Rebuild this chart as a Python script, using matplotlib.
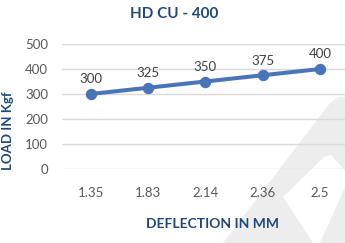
import matplotlib
matplotlib.use("Agg")
import matplotlib.pyplot as plt
from matplotlib.patches import Polygon

plt.rcParams['font.family'] = ['Lato', 'DejaVu Sans']

# chart data
deflection = ["1.35", "1.83", "2.14", "2.36", "2.5"]
load = [300, 325, 350, 375, 400]
y_ticks = [0, 100, 200, 300, 400, 500]

W, H = 345, 243
fig = plt.figure(figsize=(W / 100, H / 100), dpi=100)

def px(pts):
    return [(x / W, 1 - y / H) for x, y in pts]

# faint watermark in the lower right corner (behind everything)
fig.patches.append(Polygon(px([(223, 243), (330, 103), (338, 97), (345, 97), (345, 243)]),
                           closed=True, transform=fig.transFigure, facecolor="#EDEDED",
                           edgecolor="none", zorder=-2))
fig.patches.append(Polygon(px([(283, 197), (324, 157), (331, 155), (350, 176), (320, 243), (313, 243)]),
                           closed=True, transform=fig.transFigure, facecolor="white",
                           edgecolor="none", zorder=-1))

ax = fig.add_axes([62 / W, 1 - 169 / H, (348.7 - 62) / W, (169 - 44) / H])
ax.patch.set_alpha(0)

xs = list(range(len(deflection)))
ax.plot(xs, load, color="#4A74B8", linewidth=2.9, marker="o", markersize=7.2,
        solid_capstyle="round", zorder=3)
for x, v in zip(xs, load):
    ax.annotate(str(v), (x, v), xytext=(0, 10.5), textcoords="offset points",
                ha="center", va="center", fontsize=9.5, color="#404040")

ax.set_xlim(-0.5, len(deflection) - 0.5)
ax.set_ylim(0, 500)
ax.set_yticks(y_ticks)
ax.set_xticks(xs)
ax.set_xticklabels(deflection)
ax.grid(axis="y", color="#D9D9D9", linewidth=1)
ax.set_axisbelow(True)
for s in ax.spines.values():
    s.set_visible(False)
ax.tick_params(length=0, labelsize=9.5, labelcolor="#595959")
ax.tick_params(axis="x", pad=13)
ax.tick_params(axis="y", pad=10)

fig.text(174 / W, 1 - 14 / H, "HD CU - 400", ha="center", va="center",
         fontsize=11, fontweight="bold", color="#1F497D")
fig.text(212 / W, 1 - 224 / H, "DEFLECTION IN MM", ha="center", va="center",
         fontsize=10, fontweight="bold", color="#1F497D")
fig.text(8 / W, 1 - 131 / H, "LOAD IN Kgf", ha="center", va="center",
         rotation=90, fontsize=9.5, fontweight="bold", color="#1F497D")

fig.savefig("out.png", dpi=100)
